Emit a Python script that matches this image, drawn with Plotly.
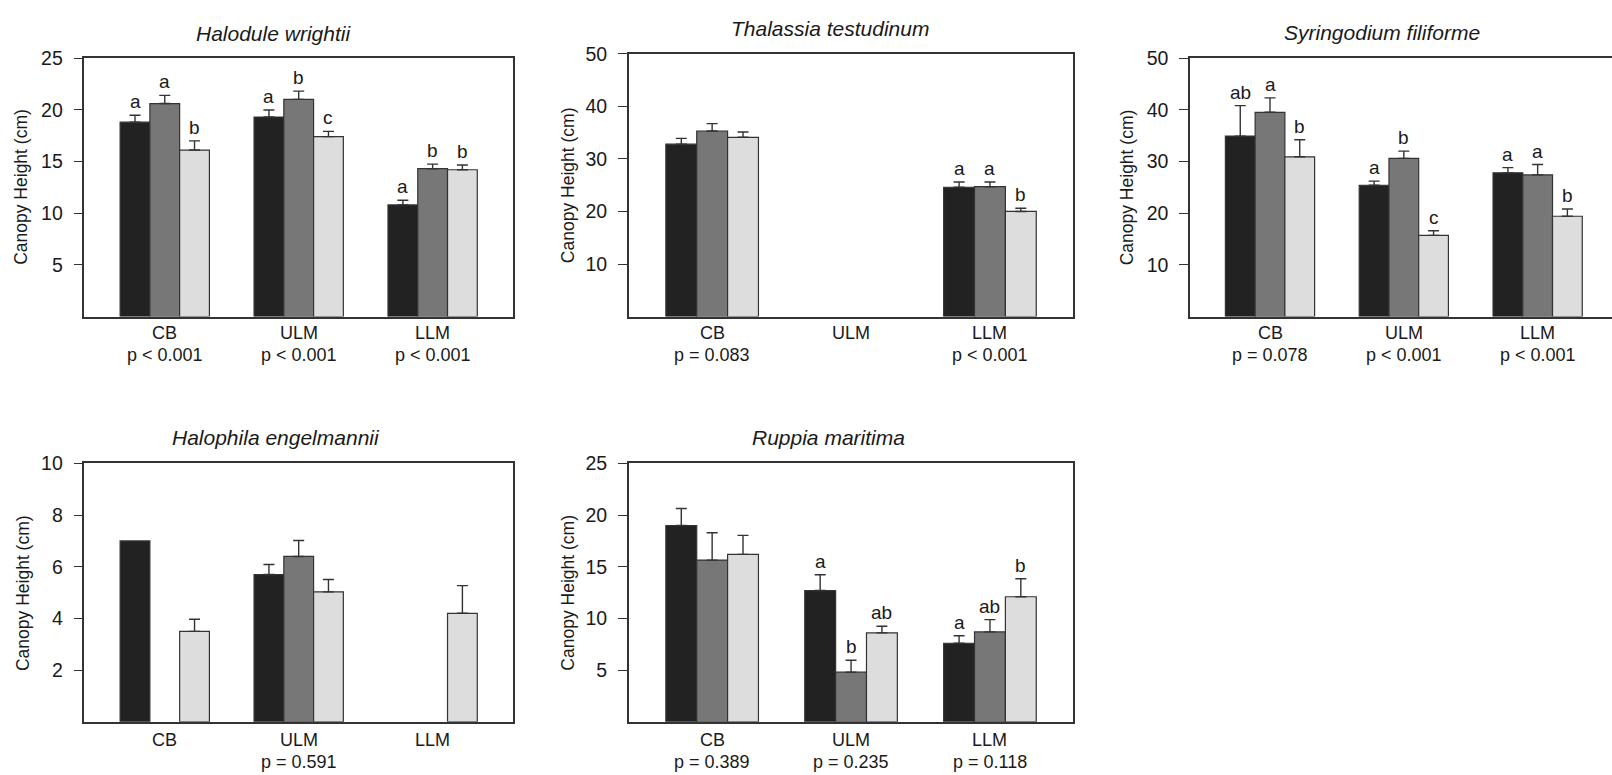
import plotly.graph_objects as go

W, H = 1612, 775

groups = ["CB", "ULM", "LLM"]
series_colors = ["#222222", "#777777", "#dddddd"]

# Halodule wrightii
hw_black = [18.8, 19.3, 10.8]
hw_gray = [20.6, 21.0, 14.3]
hw_light = [16.1, 17.4, 14.2]
hw_black_se = [0.67, 0.67, 0.45]
hw_gray_se = [0.79, 0.80, 0.44]
hw_light_se = [0.89, 0.51, 0.45]
hw_black_let = ["a", "a", "a"]
hw_gray_let = ["a", "b", "b"]
hw_light_let = ["b", "c", "b"]
hw_p = ["p < 0.001", "p < 0.001", "p < 0.001"]

# Thalassia testudinum
tt_black = [32.8, None, 24.6]
tt_gray = [35.3, None, 24.7]
tt_light = [34.1, None, 20.0]
tt_black_se = [1.1, None, 1.0]
tt_gray_se = [1.4, None, 0.9]
tt_light_se = [1.0, None, 0.6]
tt_black_let = ["", "", "a"]
tt_gray_let = ["", "", "a"]
tt_light_let = ["", "", "b"]
tt_p = ["p = 0.083", "", "p < 0.001"]

# Syringodium filiforme
sf_black = [34.9, 25.4, 27.8]
sf_gray = [39.5, 30.6, 27.4]
sf_light = [30.9, 15.7, 19.4]
sf_black_se = [5.9, 0.8, 1.0]
sf_gray_se = [2.8, 1.4, 2.0]
sf_light_se = [3.3, 0.9, 1.4]
sf_black_let = ["ab", "a", "a"]
sf_gray_let = ["a", "b", "a"]
sf_light_let = ["b", "c", "b"]
sf_p = ["p = 0.078", "p < 0.001", "p < 0.001"]

# Halophila engelmannii
he_black = [7.0, 5.7, None]
he_gray = [None, 6.4, None]
he_light = [3.5, 5.03, 4.2]
he_black_se = [None, 0.39, None]
he_gray_se = [None, 0.62, None]
he_light_se = [0.47, 0.48, 1.07]
he_black_let = ["", "", ""]
he_gray_let = ["", "", ""]
he_light_let = ["", "", ""]
he_p = ["", "p = 0.591", ""]

# Ruppia maritima
rm_black = [19.0, 12.7, 7.6]
rm_gray = [15.65, 4.8, 8.7]
rm_light = [16.2, 8.6, 12.1]
rm_black_se = [1.64, 1.53, 0.73]
rm_gray_se = [2.65, 1.15, 1.19]
rm_light_se = [1.84, 0.64, 1.75]
rm_black_let = ["", "a", "a"]
rm_gray_let = ["", "b", "ab"]
rm_light_let = ["", "ab", "b"]
rm_p = ["p = 0.389", "p = 0.235", "p = 0.118"]

titles = ["Halodule wrightii", "Thalassia testudinum", "Syringodium filiforme",
          "Halophila engelmannii", "Ruppia maritima"]
y_max = [25, 50, 50, 10, 25]
y_ticks = [[5, 10, 15, 20, 25], [10, 20, 30, 40, 50], [10, 20, 30, 40, 50],
           [2, 4, 6, 8, 10], [5, 10, 15, 20, 25]]

panels_data = [
    ([hw_black, hw_gray, hw_light], [hw_black_se, hw_gray_se, hw_light_se],
     [hw_black_let, hw_gray_let, hw_light_let], hw_p),
    ([tt_black, tt_gray, tt_light], [tt_black_se, tt_gray_se, tt_light_se],
     [tt_black_let, tt_gray_let, tt_light_let], tt_p),
    ([sf_black, sf_gray, sf_light], [sf_black_se, sf_gray_se, sf_light_se],
     [sf_black_let, sf_gray_let, sf_light_let], sf_p),
    ([he_black, he_gray, he_light], [he_black_se, he_gray_se, he_light_se],
     [he_black_let, he_gray_let, he_light_let], he_p),
    ([rm_black, rm_gray, rm_light], [rm_black_se, rm_gray_se, rm_light_se],
     [rm_black_let, rm_gray_let, rm_light_let], rm_p),
]

# layout geometry (pixels): left, right, top, bottom of plot box
boxes = [
    (84.4, 513.0, 47.7, 310.0),
    (628.8, 1073.3, 43.3, 310.0),
    (1190.0, 1612.0, 47.7, 310.0),
    (84.4, 513.0, 459.0, 721.0),
    (628.8, 1073.3, 459.0, 721.0),
]
x_ranges = [(-2.7, 11.7), (-2.7, 11.7), (-2.69, 11.5), (-2.7, 11.7), (-2.7, 11.7)]
group_pos = [0.0, 4.5, 9.0]
bar_offsets = [-1.0, 0.0, 1.0]
ytitle_x = [21.5, 568.0, 1127.0, 22.4, 568.0]
title_xy = [(273.0, 22.5), (830.4, 18.0), (1382.0, 21.7), (275.5, 433.0), (828.4, 433.0)]
label_y = [(327.0, 349.0), (327.0, 349.0), (327.0, 349.0), (740.0, 762.0), (740.0, 762.0)]

FONT = "Liberation Sans, Arial, sans-serif"
TXT = "#1a1a1a"
LINE = "#333333"


def px(x):
    return x / W


def py(y):
    return 1 - y / H


fig = go.Figure()
annotations = []

for i, (means, ses, lets, pvals) in enumerate(panels_data):
    n = i + 1
    xa = "x" if n == 1 else f"x{n}"
    ya = "y" if n == 1 else f"y{n}"
    for s in range(3):
        xs = [g + bar_offsets[s] for g in group_pos]
        fig.add_trace(go.Bar(
            x=xs, y=means[s], width=1.0, xaxis=xa, yaxis=ya,
            marker=dict(color=series_colors[s], line=dict(color=LINE, width=1.2)),
            showlegend=False, hoverinfo="skip",
        ))
        # upward-only error bars, only where a standard error exists
        ex, ey, ee = [], [], []
        for gi in range(3):
            if means[s][gi] is not None and ses[s][gi] is not None:
                ex.append(xs[gi])
                ey.append(means[s][gi])
                ee.append(ses[s][gi])
        fig.add_trace(go.Scatter(
            x=ex, y=ey, mode="markers", xaxis=xa, yaxis=ya,
            marker=dict(size=1, opacity=0),
            error_y=dict(type="data", symmetric=False, array=ee,
                         arrayminus=[0] * len(ee),
                         color=LINE, thickness=1.4, width=5.5),
            showlegend=False, hoverinfo="skip",
        ))
        for gi in range(3):
            lt = lets[s][gi]
            if lt and means[s][gi] is not None:
                top = means[s][gi] + (ses[s][gi] or 0)
                annotations.append(dict(
                    x=xs[gi], y=top, xref=xa, yref=ya, text=lt, showarrow=False,
                    yanchor="bottom", yshift=1, font=dict(family=FONT, size=19, color=TXT)))
    l, r, t, b = boxes[i]
    layout_x = dict(domain=[px(l), min(px(r), 1.0)], range=list(x_ranges[i]),
                    showgrid=False, zeroline=False, showticklabels=False, ticks="",
                    showline=True, linecolor=LINE, linewidth=1.5, mirror=True,
                    anchor=ya)
    layout_y = dict(domain=[py(b), py(t)], range=[0, y_max[i]],
                    tickvals=y_ticks[i], ticks="outside", ticklen=9, tickwidth=1.4,
                    tickcolor=LINE, showgrid=False, zeroline=False,
                    showline=True, linecolor=LINE, linewidth=1.5,
                    mirror=(i != 2), ticklabelstandoff=7,
                    tickfont=dict(family=FONT, size=19.5, color=TXT), anchor=xa)
    fig.update_layout(**{("xaxis" if n == 1 else f"xaxis{n}"): layout_x,
                         ("yaxis" if n == 1 else f"yaxis{n}"): layout_y})
    # group labels and p-values
    for gi, g in enumerate(groups):
        annotations.append(dict(x=group_pos[gi], y=py(label_y[i][0]), xref=xa, yref="paper",
                                text=g, showarrow=False, yanchor="middle",
                                font=dict(family=FONT, size=18, color=TXT)))
        if pvals[gi]:
            annotations.append(dict(x=group_pos[gi], y=py(label_y[i][1]), xref=xa, yref="paper",
                                    text=pvals[gi], showarrow=False, yanchor="middle",
                                    font=dict(family=FONT, size=18, color=TXT)))
    # y-axis title
    annotations.append(dict(x=px(ytitle_x[i]), y=py((t + b) / 2), xref="paper", yref="paper",
                            text="Canopy Height (cm)", textangle=-90, showarrow=False,
                            xanchor="center", yanchor="middle",
                            font=dict(family=FONT, size=17.5, color=TXT)))
    # panel title
    annotations.append(dict(x=px(title_xy[i][0]), y=py(title_xy[i][1]), xref="paper", yref="paper",
                            text=f"<i>{titles[i]}</i>", showarrow=False,
                            xanchor="center", yanchor="middle",
                            font=dict(family=FONT, size=21, color=TXT)))

fig.update_layout(
    width=W, height=H, margin=dict(l=0, r=0, t=0, b=0),
    paper_bgcolor="white", plot_bgcolor="white",
    barmode="overlay", annotations=annotations,
)

fig.write_html("out.html", config={"displayModeBar": False})
